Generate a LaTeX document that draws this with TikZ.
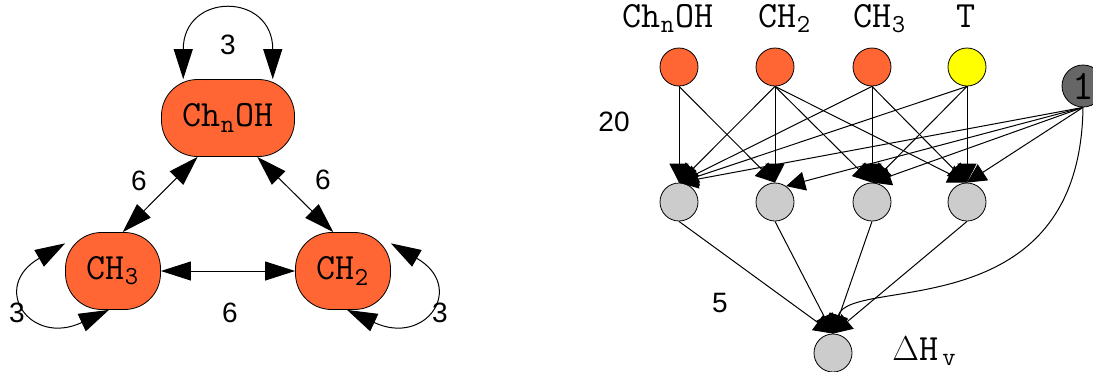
\documentclass[tikz,border=0pt]{standalone}
\usepackage{fontspec}
\newfontfamily\numfont{Liberation Sans}
\usetikzlibrary{positioning,arrows.meta}
\definecolor{spec}{RGB}{255,102,51}
\definecolor{tyel}{RGB}{255,255,0}
\definecolor{bias}{RGB}{102,102,102}
\definecolor{hid}{RGB}{204,204,204}
\tikzset{
  sp/.style={draw, fill=spec, rounded corners=18pt, minimum width=47.5pt, minimum height=38.5pt, inner sep=0pt, font=\ttfamily\fontsize{18.5}{20}\selectfont},
  inp/.style={circle, draw, fill=spec, minimum size=19pt, inner sep=0pt},
  hd/.style={circle, draw, fill=hid, minimum size=19pt, inner sep=0pt},
  bs/.style={circle, draw, fill=bias, minimum size=21pt, inner sep=0pt, font=\ttfamily\fontsize{21}{21}\selectfont},
  txt/.style={inner sep=0pt, anchor=base, font=\ttfamily\fontsize{18.5}{20}\selectfont},
  num/.style={inner sep=0pt, font=\numfont\fontsize{14}{16}\selectfont},
  bi/.style={{Triangle[length=15pt,width=9.5pt]}-{Triangle[length=15pt,width=9.5pt]}, line width=0.5pt},
  arr/.style={-{Triangle[length=9.5pt,width=9.5pt]}, line width=0.5pt}
}
\begin{document}
\begin{tikzpicture}[x=0.5pt, y=-0.5pt]
  \useasboundingbox (0,0) rectangle (1093,371);
  % left: species graph
  \node[sp, minimum width=66.5pt] (chnoh) at (228,118) {Ch\textsubscript{n}OH};
  \node[sp] (ch3) at (113,271) {CH\textsubscript{3}};
  \node[sp] (ch2) at (343,271) {CH\textsubscript{2}};
  \draw[bi] (chnoh.232) -- (ch3.76);
  \draw[bi] (chnoh.-53) -- (ch2.104);
  \draw[bi] (ch3) -- (ch2);
  \draw[bi] (chnoh.139) to[out=90, in=90, looseness=2.5] (chnoh.41);
  \draw[bi] (ch3.150) to[out=210, in=205, looseness=2.8] (ch3.-96);
  \draw[bi] (ch2.30) to[out=-30, in=-25, looseness=2.8] (ch2.-84);
  \node[num] (w1) at (228,45) {3};
  \node[num] (w2) at (17,313) {3};
  \node[num] (w3) at (440,313) {3};
  \node[num] (w4) at (139,181) {6};
  \node[num] (w5) at (323,180) {6};
  \node[num] (w6) at (230,313) {6};
  % right: network
  \node[inp] (ich) at (679,67) {};
  \node[inp] (ich2) at (775,67) {};
  \node[inp] (ich3) at (872,67) {};
  \node[inp, fill=tyel] (itemp) at (967,67) {};
  \node[bs] (one) at (1083,86) {1};
  \node[txt] (lch) at (668,27) {Ch\textsubscript{n}OH};
  \node[txt] (lch2) at (785,27) {CH\textsubscript{2}};
  \node[txt] (lch3) at (880,27) {CH\textsubscript{3}};
  \node[txt] (ltemp) at (966,27) {T};
  \node[hd] (hid1) at (679,202) {};
  \node[hd] (hid2) at (775,202) {};
  \node[hd] (hid3) at (872,202) {};
  \node[hd] (hid4) at (967,202) {};
  \node[hd] (out) at (833,353) {};
  \node[txt, anchor=base west] (lout) at (892,360) {$\Delta$H\textsubscript{\,v}};
  \node[num] (n20) at (614,122) {20};
  \node[num] (n5) at (720,303) {5};
  \draw[arr] (ich.south) -- (hid1.north);  \draw[arr] (ich.south) -- (hid2.north);
  \draw[arr] (ich2.south) -- (hid1.north); \draw[arr] (ich2.south) -- (hid2.north);
  \draw[arr] (ich2.south) -- (hid3.north); \draw[arr] (ich2.south) -- (hid4.north);
  \draw[arr] (ich3.south) -- (hid1.north); \draw[arr] (ich3.south) -- (hid3.north);
  \draw[arr] (ich3.south) -- (hid4.north);
  \draw[arr] (itemp.south) -- (hid1.north); \draw[arr] (itemp.south) -- (hid3.north);
  \draw[arr] (itemp.south) -- (hid4.north);
  \draw[arr] (one.south) -- (hid1.north); \draw[arr] (one.south) -- (hid2.55);
  \draw[arr] (one.south) -- (hid3.north); \draw[arr] (one.south) -- (hid4.north);
  \draw[arr] (hid1.south) -- (out.north); \draw[arr] (hid2.south) -- (out.north);
  \draw[arr] (hid3.south) -- (out.north); \draw[arr] (hid4.south) -- (out.north);
  \draw[arr] (one.south) .. controls (1080,330) and (850,275) .. (out.north);
\end{tikzpicture}
\end{document}
